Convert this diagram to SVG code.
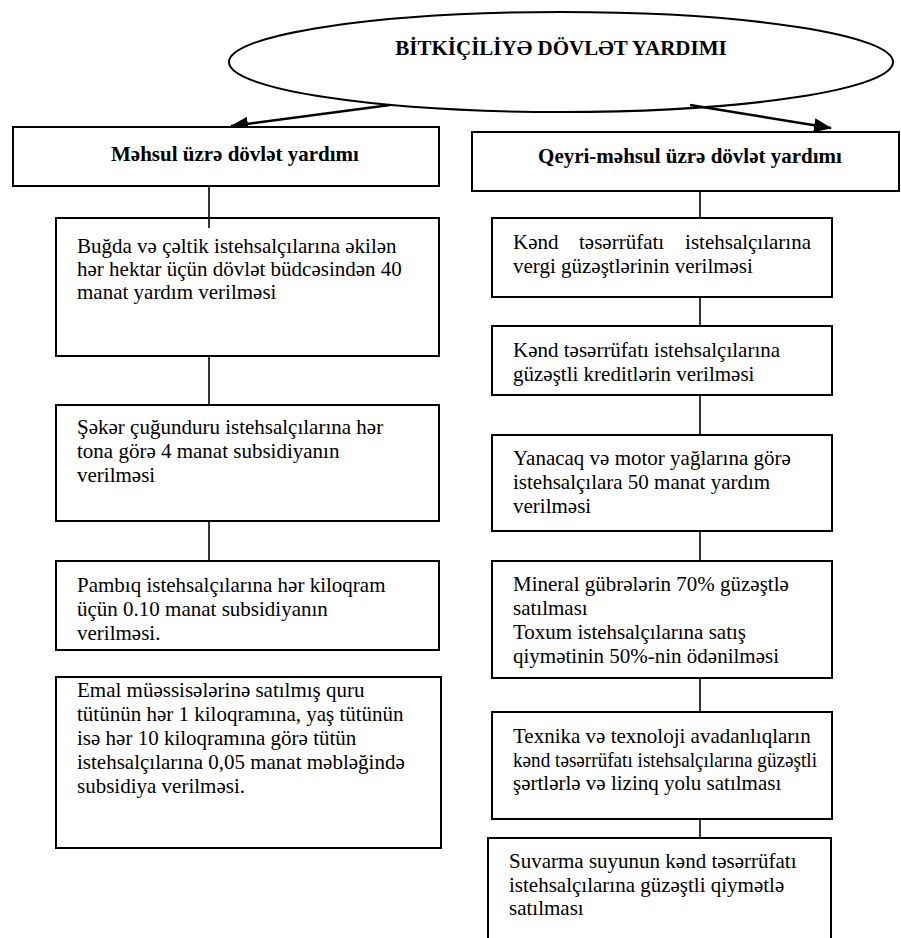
<svg xmlns="http://www.w3.org/2000/svg" width="901" height="938" viewBox="0 0 901 938">
<style>
.box{fill:#fff;stroke:#000;stroke-width:2}
.t{font-family:'Liberation Serif','Times New Roman','DejaVu Serif',serif;font-size:21px;fill:#000}
.b{font-weight:bold}
.c{stroke:#000;stroke-width:1.6;fill:none}
.a{stroke:#000;stroke-width:2.4;fill:none}
</style>
<defs>
<marker id="ah" viewBox="0 0 18 14" refX="17" refY="7" markerWidth="18" markerHeight="14" markerUnits="userSpaceOnUse" orient="auto">
<path d="M0,0 L18,7 L0,14 z" fill="#000"/>
</marker>
</defs>
<rect width="901" height="938" fill="#fff"/>
<g id="root">
<ellipse cx="561" cy="62" rx="332" ry="50" fill="#fff" stroke="#000" stroke-width="2"/>
<text class="t b" x="561" y="55" text-anchor="middle">BİTKİÇİLİYƏ DÖVLƏT YARDIMI</text>
</g>
<g id="connectors">
<line class="a" x1="390" y1="105" x2="231" y2="126" marker-end="url(#ah)"/>
<line class="a" x1="690" y1="105" x2="831" y2="128" marker-end="url(#ah)"/>
<line class="c" x1="209" y1="186" x2="209" y2="228"/>
<line class="c" x1="209" y1="356" x2="209" y2="405"/>
<line class="c" x1="209" y1="521" x2="209" y2="561"/>
<line class="c" x1="700" y1="191" x2="700" y2="218"/>
<line class="c" x1="700" y1="297" x2="700" y2="326"/>
<line class="c" x1="700" y1="395" x2="700" y2="435"/>
<line class="c" x1="700" y1="531" x2="700" y2="561"/>
<line class="c" x1="700" y1="678" x2="700" y2="712"/>
<line class="c" x1="700" y1="819" x2="700" y2="838"/>
</g>
<g id="left-head">
<rect class="box" x="13" y="127" width="426" height="59"/>
<text class="t b" x="235" y="161" text-anchor="middle">Məhsul üzrə dövlət yardımı</text>
</g>
<g id="right-head">
<rect class="box" x="472" y="132" width="427" height="59"/>
<text class="t b" x="690" y="163" text-anchor="middle">Qeyri-məhsul üzrə dövlət yardımı</text>
</g>
<g id="L1">
<rect class="box" x="56" y="218" width="383" height="138"/>
<text class="t" x="77" y="253">Buğda və çəltik istehsalçılarına əkilən</text>
<text class="t" x="77" y="276">hər hektar üçün dövlət büdcəsindən 40</text>
<text class="t" x="77" y="299">manat yardım verilməsi</text>
</g>
<line class="c" x1="209" y1="218" x2="209" y2="228"/>
<g id="L2">
<rect class="box" x="56" y="405" width="383" height="116"/>
<text class="t" x="77" y="434">Şəkər çuğunduru istehsalçılarına hər</text>
<text class="t" x="77" y="458">tona görə 4 manat subsidiyanın</text>
<text class="t" x="77" y="482">verilməsi</text>
</g>
<g id="L3">
<rect class="box" x="56" y="561" width="383" height="89"/>
<text class="t" x="77" y="592">Pambıq istehsalçılarına hər kiloqram</text>
<text class="t" x="77" y="616">üçün 0.10 manat subsidiyanın</text>
<text class="t" x="77" y="640">verilməsi.</text>
</g>
<g id="L4">
<rect class="box" x="56" y="677" width="385" height="171"/>
<text class="t" x="77" y="697">Emal müəssisələrinə satılmış quru</text>
<text class="t" x="77" y="721">tütünün hər 1 kiloqramına, yaş tütünün</text>
<text class="t" x="77" y="745">isə hər 10 kiloqramına görə tütün</text>
<text class="t" x="77" y="769">istehsalçılarına 0,05 manat məbləğində</text>
<text class="t" x="77" y="793">subsidiya verilməsi.</text>
</g>
<g id="R1">
<rect class="box" x="492" y="218" width="340" height="79"/>
<text class="t" x="513" y="249">Kənd</text>
<text class="t" x="579" y="249">təsərrüfatı</text>
<text class="t" x="811" y="249" text-anchor="end">istehsalçılarına</text>
<text class="t" x="513" y="273">vergi güzəştlərinin verilməsi</text>
</g>
<g id="R2">
<rect class="box" x="492" y="326" width="340" height="69"/>
<text class="t" x="513" y="357">Kənd təsərrüfatı istehsalçılarına</text>
<text class="t" x="513" y="381">güzəştli kreditlərin verilməsi</text>
</g>
<g id="R3">
<rect class="box" x="492" y="435" width="340" height="96"/>
<text class="t" x="513" y="465">Yanacaq və motor yağlarına görə</text>
<text class="t" x="513" y="489">istehsalçılara 50 manat yardım</text>
<text class="t" x="513" y="513">verilməsi</text>
</g>
<g id="R4">
<rect class="box" x="492" y="561" width="340" height="117"/>
<text class="t" x="513" y="591">Mineral gübrələrin 70% güzəştlə</text>
<text class="t" x="513" y="615">satılması</text>
<text class="t" x="513" y="639">Toxum istehsalçılarına satış</text>
<text class="t" x="513" y="663">qiymətinin 50%-nin ödənilməsi</text>
</g>
<g id="R5">
<rect class="box" x="492" y="712" width="340" height="107"/>
<text class="t" x="513" y="743">Texnika və texnoloji avadanlıqların</text>
<text class="t" x="513" y="767" textLength="304" lengthAdjust="spacingAndGlyphs">kənd təsərrüfatı istehsalçılarına güzəştli</text>
<text class="t" x="513" y="790">şərtlərlə və lizinq yolu satılması</text>
</g>
<g id="R6">
<rect class="box" x="488" y="838" width="343" height="110"/>
<text class="t" x="509" y="868">Suvarma suyunun kənd təsərrüfatı</text>
<text class="t" x="509" y="892">istehsalçılarına güzəştli qiymətlə</text>
<text class="t" x="509" y="915">satılması</text>
</g>
</svg>
